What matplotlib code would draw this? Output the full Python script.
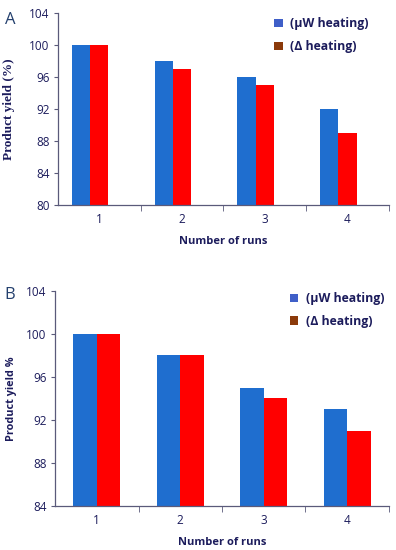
import matplotlib
matplotlib.use("Agg")
import matplotlib.pyplot as plt
import numpy as np
from matplotlib.patches import Patch
from matplotlib.ticker import FixedLocator

runs = ["1", "2", "3", "4"]
a_mw = [100, 98, 96, 92]
a_delta = [100, 97, 95, 89]
b_mw = [100, 98, 95, 93]
b_delta = [100, 98, 94, 91]
a_yticks = [80, 84, 88, 92, 96, 100, 104]
b_yticks = [84, 88, 92, 96, 100, 104]
legend_labels = ["(µW heating)", "(Δ heating)"]

BLUE = "#1F6ECF"
RED = "#FF0000"
LEG_BLUE = "#3F5FC8"
LEG_BROWN = "#8B3A0A"
NAVY = "#1C1C5C"
AXC = "#5A5A7A"

plt.rcParams["font.family"] = ["Open Sans", "DejaVu Sans"]

fig = plt.figure(figsize=(3.96, 5.5), dpi=100)
axA = fig.add_axes([0.146, 0.627, 0.836, 0.349])
axB = fig.add_axes([0.139, 0.080, 0.843, 0.391])

def style(ax, yticks, ylabel, ylabel_kw):
    x = np.arange(1, len(runs) + 1)
    ax.set_xlim(0.5, len(runs) + 0.5)
    ax.set_ylim(yticks[0], yticks[-1])
    ax.set_yticks(yticks)
    ax.set_xticks(x)
    ax.set_xticklabels(runs)
    ax.xaxis.set_minor_locator(FixedLocator(np.arange(1.5, len(runs) + 1, 1.0)))
    ax.tick_params(axis="x", which="major", length=0, pad=6, labelsize=8.5, labelcolor=NAVY)
    ax.tick_params(axis="x", which="minor", length=4, color=AXC, direction="out")
    ax.tick_params(axis="y", length=3, color=AXC, direction="out", labelsize=8.5, labelcolor=NAVY, pad=3)
    for s in ["top", "right"]:
        ax.spines[s].set_visible(False)
    for s in ["left", "bottom"]:
        ax.spines[s].set_color(AXC)
        ax.spines[s].set_linewidth(0.9)
    ax.set_xlabel("Number of runs", fontsize=8, fontweight="bold", color=NAVY, labelpad=7)
    ax.set_ylabel(ylabel, fontweight="bold", color=NAVY, **ylabel_kw)

x = np.arange(1, len(runs) + 1)
axA.bar(x - 0.22, a_mw, width=0.22, color=BLUE)
axA.bar(x + 0.0, a_delta, width=0.22, color=RED)
style(axA, a_yticks, "Product yield (%)",
      {"family": ["Liberation Serif", "DejaVu Serif"], "fontsize": 9.5})
axA.yaxis.set_label_coords(-0.13, 0.5)

axB.bar(x - 0.14, b_mw, width=0.28, color=BLUE)
axB.bar(x + 0.14, b_delta, width=0.28, color=RED)
style(axB, b_yticks, "Product yield %", {"fontsize": 7.8})
axB.yaxis.set_label_coords(-0.115, 0.5)

handles = [Patch(facecolor=LEG_BLUE), Patch(facecolor=LEG_BROWN)]
for ax, loc in [(axA, (0.62, 1.035)), (axB, (0.67, 1.045))]:
    leg = ax.legend(handles, legend_labels, loc="upper left", bbox_to_anchor=loc,
                    frameon=False, handlelength=0.7, handleheight=0.7,
                    handletextpad=0.6, labelspacing=0.8,
                    prop={"size": 8.8, "weight": "bold"})
    for t in leg.get_texts():
        t.set_color(NAVY)

fig.text(0.012, 0.978, "A", fontsize=12, color="#24406E", va="top", ha="left")
fig.text(0.012, 0.478, "B", fontsize=12, color="#24406E", va="top", ha="left")

fig.savefig("out.png", dpi=100)
